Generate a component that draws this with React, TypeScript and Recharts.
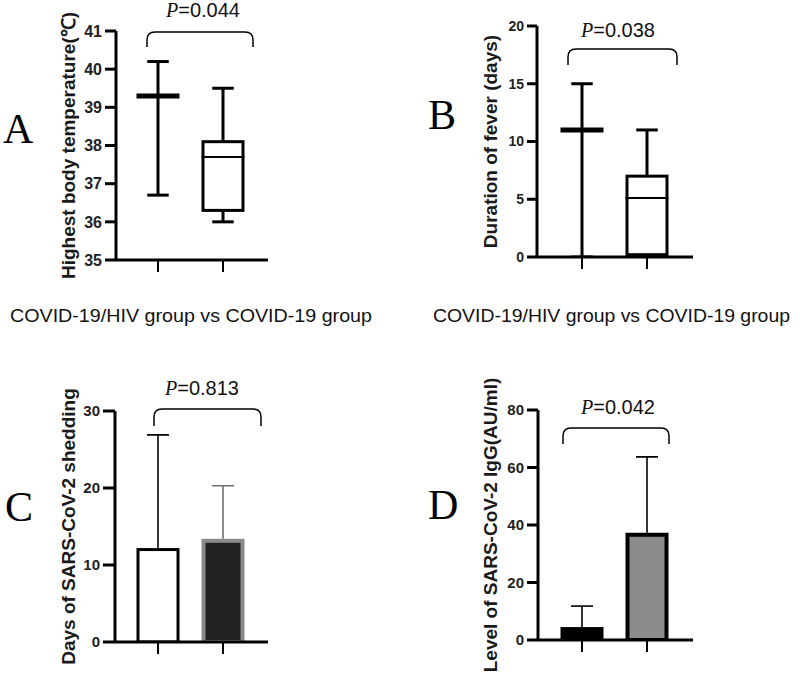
import React from 'react';
import { BarChart, Bar, XAxis, YAxis } from 'recharts';

// groups compared in every panel
const groups = ['COVID-19/HIV', 'COVID-19'];

// A: highest body temperature (box plot)
const tempMin = [36.7, 36.0];
const tempQ1 = [39.3, 36.3];
const tempMedian = [39.3, 37.7];
const tempQ3 = [39.3, 38.1];
const tempMax = [40.2, 39.5];
const tempTicks = [35, 36, 37, 38, 39, 40, 41];

// B: duration of fever (box plot)
const feverMin = [0, 0];
const feverQ1 = [11, 0.2];
const feverMedian = [11, 5.1];
const feverQ3 = [11, 7];
const feverMax = [15, 11];
const feverTicks = [0, 5, 10, 15, 20];

// C: days of SARS-CoV-2 shedding (mean + SD)
const sheddingMean = [12.2, 13.4];
const sheddingSd = [14.7, 6.9];
const sheddingTicks = [0, 10, 20, 30];

// D: SARS-CoV-2 IgG level (mean + SD)
const iggMean = [4.5, 37.3];
const iggSd = [7.3, 26.4];
const iggTicks = [0, 20, 40, 60, 80];

const pValues = ['0.044', '0.038', '0.813', '0.042'];
const xTitle = 'COVID-19/HIV group vs COVID-19 group';

const boxRows = (mn: number[], q1: number[], md: number[], q3: number[], mx: number[]) =>
  groups.map((g, i) => ({ group: g, min: mn[i], q1: q1[i], median: md[i], q3: q3[i], max: mx[i] }));

const barRows = (mean: number[], sd: number[]) =>
  groups.map((g, i) => ({ group: g, mean: mean[i], sd: sd[i] }));

const tempData = boxRows(tempMin, tempQ1, tempMedian, tempQ3, tempMax);
const feverData = boxRows(feverMin, feverQ1, feverMedian, feverQ3, feverMax);
const sheddingData = barRows(sheddingMean, sheddingSd);
const iggData = barRows(iggMean, iggSd);

const BoxShape = (props: any) => {
  const { x, width, payload } = props;
  const top = Math.min(props.y, props.y + props.height);
  const h = Math.abs(props.height);
  const { min, q1, median, q3, max } = payload;
  const py = (v: number) => top + ((max - v) / (max - min)) * h;
  const cx = x + width / 2;
  const cap = width / 4;
  const collapsed = q3 - q1 < 0.01;
  return (
    <g>
      <line x1={cx} x2={cx} y1={py(max)} y2={py(min)} stroke="#000" strokeWidth={3} />
      <line x1={cx - cap} x2={cx + cap} y1={py(max)} y2={py(max)} stroke="#000" strokeWidth={3} />
      <line x1={cx - cap} x2={cx + cap} y1={py(min)} y2={py(min)} stroke="#000" strokeWidth={3} />
      {!collapsed && (
        <rect x={x + 1.5} y={py(q3)} width={width - 3} height={py(q1) - py(q3)} fill="#fff" stroke="#000" strokeWidth={3} />
      )}
      <line x1={x} x2={x + width} y1={py(median)} y2={py(median)} stroke="#000" strokeWidth={collapsed ? 5 : 2} />
    </g>
  );
};

type BarStyle = { fill: string; stroke: string; strokeWidth: number; err: string };

const makeMeanShape = (styles: BarStyle[]) => (props: any) => {
  const { x, y, width, height, index, payload } = props;
  const s = styles[index];
  const perUnit = height / payload.mean;
  const errTop = y - payload.sd * perUnit;
  const cx = x + width / 2;
  const sw = s.strokeWidth;
  return (
    <g>
      <line x1={cx} x2={cx} y1={y} y2={errTop} stroke={s.err} strokeWidth={1.6} />
      <line x1={cx - 11} x2={cx + 11} y1={errTop} y2={errTop} stroke={s.err} strokeWidth={1.6} />
      <rect x={x + sw / 2} y={y + sw / 2} width={width - sw} height={height - sw / 2} fill={s.fill} stroke={s.stroke} strokeWidth={sw} />
    </g>
  );
};

const sheddingStyles: BarStyle[] = [
  { fill: '#ffffff', stroke: '#000', strokeWidth: 3, err: '#000' },
  { fill: '#222222', stroke: '#8a8a8a', strokeWidth: 4, err: '#6f6f6f' },
];
const iggStyles: BarStyle[] = [
  { fill: '#000000', stroke: '#000', strokeWidth: 3, err: '#000' },
  { fill: '#8c8c8c', stroke: '#000', strokeWidth: 4, err: '#000' },
];

const sans = '"Liberation Sans", Arial, sans-serif';
const serif = '"Liberation Serif", "Times New Roman", serif';

const yLabel = (value: string, offset: number) => ({
  value,
  angle: -90,
  position: 'insideLeft' as const,
  offset,
  style: { textAnchor: 'middle', fontFamily: sans, fontWeight: 700, fontSize: 19, fill: '#1a1a1a' },
});

const emptyTick = () => <g />;

interface PanelProps {
  left: number;
  top: number;
  width: number;
  height: number;
  margin: { top: number; right: number; bottom: number; left: number };
  yWidth: number;
  pad: { left: number; right: number };
  domain: [number, number];
  ticks: number[];
  tickFont: number;
  tickSize: number;
  title: string;
  titleOffset: number;
  children: React.ReactNode;
  data: any[];
}

const Panel = (p: PanelProps) => (
  <div style={{ position: 'absolute', left: p.left, top: p.top }}>
    <BarChart width={p.width} height={p.height} data={p.data} margin={p.margin}>
      <XAxis
        dataKey="group"
        height={20}
        padding={p.pad}
        axisLine={{ stroke: '#000', strokeWidth: 3 }}
        tickLine={{ stroke: '#000', strokeWidth: 2 }}
        tickSize={12}
        tick={emptyTick}
        interval={0}
      />
      <YAxis
        width={p.yWidth}
        domain={p.domain}
        ticks={p.ticks}
        type="number"
        allowDataOverflow
        axisLine={{ stroke: '#000', strokeWidth: 3 }}
        tickLine={{ stroke: '#000', strokeWidth: 3 }}
        tickSize={p.tickSize}
        tickMargin={3}
        tick={{ fontFamily: sans, fontWeight: 700, fontSize: p.tickFont, fill: '#222' }}
        label={yLabel(p.title, p.titleOffset)}
      />
      {p.children}
    </BarChart>
  </div>
);

const Bracket = ({ x1, x2, top, bottom }: { x1: number; x2: number; top: number; bottom: number }) => {
  const r = 8;
  const d = `M${x1},${bottom} L${x1},${top + r} Q${x1},${top} ${x1 + r},${top} L${x2 - r},${top} Q${x2},${top} ${x2},${top + r} L${x2},${bottom}`;
  return <path d={d} fill="none" stroke="#000" strokeWidth={1.5} />;
};

const PText = ({ x, y, value }: { x: number; y: number; value: string }) => (
  <text x={x} y={y} textAnchor="middle" fontSize={20} fontFamily={sans} fill="#111">
    <tspan fontFamily={serif} fontStyle="italic">P</tspan>={value}
  </text>
);

const Letter = ({ x, y, value }: { x: number; y: number; value: string }) => (
  <text x={x} y={y} fontSize={42} fontFamily={serif} fill="#000">{value}</text>
);

export default function App() {
  return (
    <div style={{ position: 'absolute', left: 0, top: 0, width: 800, height: 673, background: '#fff', overflow: 'hidden' }}>
      <Panel
        left={0} top={0} width={300} height={300}
        margin={{ top: 31, right: 32, bottom: 20, left: 0 }}
        yWidth={116} pad={{ left: 9.5, right: 12.5 }}
        domain={[35, 41]} ticks={tempTicks} tickFont={16} tickSize={11}
        title="Highest body temperature(℃)" titleOffset={68}
        data={tempData}
      >
        <Bar dataKey={(d: any) => [d.min, d.max]} barSize={43} shape={BoxShape} isAnimationActive={false} />
      </Panel>
      <Panel
        left={400} top={0} width={400} height={300}
        margin={{ top: 26, right: 107, bottom: 23, left: 0 }}
        yWidth={137} pad={{ left: 12.5, right: 13.5 }}
        domain={[0, 20]} ticks={feverTicks} tickFont={14} tickSize={10}
        title="Duration of fever (days)" titleOffset={90}
        data={feverData}
      >
        <Bar dataKey={(d: any) => [d.min, d.max]} barSize={43} shape={BoxShape} isAnimationActive={false} />
      </Panel>
      <Panel
        left={0} top={340} width={300} height={333}
        margin={{ top: 71, right: 32, bottom: 11, left: 0 }}
        yWidth={115} pad={{ left: 10.5, right: 12.5 }}
        domain={[0, 30]} ticks={sheddingTicks} tickFont={15} tickSize={12}
        title="Days of SARS-CoV-2 shedding" titleOffset={68}
        data={sheddingData}
      >
        <Bar dataKey="mean" barSize={43} shape={makeMeanShape(sheddingStyles)} isAnimationActive={false} />
      </Panel>
      <Panel
        left={400} top={340} width={400} height={333}
        margin={{ top: 70, right: 107, bottom: 13, left: 0 }}
        yWidth={138} pad={{ left: 11.5, right: 13.5 }}
        domain={[0, 80]} ticks={iggTicks} tickFont={15} tickSize={11}
        title="Level of SARS-CoV-2 IgG(AU/ml)" titleOffset={90}
        data={iggData}
      >
        <Bar dataKey="mean" barSize={43} shape={makeMeanShape(iggStyles)} isAnimationActive={false} />
      </Panel>
      <svg width={800} height={673} style={{ position: 'absolute', left: 0, top: 0, pointerEvents: 'none' }}>
        <Letter x={3} y={143} value="A" />
        <Letter x={428} y={129} value="B" />
        <Letter x={5} y={521} value="C" />
        <Letter x={428} y={519} value="D" />
        <PText x={203} y={17} value={pValues[0]} />
        <PText x={618} y={37} value={pValues[1]} />
        <PText x={202} y={395} value={pValues[2]} />
        <PText x={618} y={414} value={pValues[3]} />
        <Bracket x1={147} x2={253} top={32} bottom={47} />
        <Bracket x1={568} x2={677} top={49} bottom={65} />
        <Bracket x1={154} x2={261} top={409} bottom={426} />
        <Bracket x1={563} x2={669} top={428} bottom={444} />
        <text x={10} y={322} fontSize={19} fontFamily={sans} fill="#111" textLength={362} lengthAdjust="spacingAndGlyphs">{xTitle}</text>
        <text x={433} y={322} fontSize={19} fontFamily={sans} fill="#111" textLength={357} lengthAdjust="spacingAndGlyphs">{xTitle}</text>
      </svg>
    </div>
  );
}
